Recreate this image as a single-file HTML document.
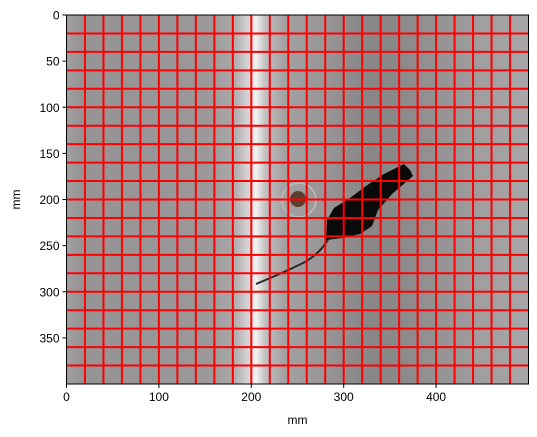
<!DOCTYPE html>
<html><head><meta charset="utf-8"><style>
html,body{margin:0;padding:0;background:#fff;width:537px;height:437px;overflow:hidden}
svg{font-family:"Liberation Sans",sans-serif}
</style></head><body>
<svg id="chart" width="537" height="437" xmlns="http://www.w3.org/2000/svg">
<defs>
<linearGradient id="bg" x1="0" x2="1" y1="0" y2="0">
<stop offset="0" stop-color="#a3a0a1"/>
<stop offset="0.03" stop-color="#959394"/>
<stop offset="0.3" stop-color="#9a9899"/>
<stop offset="0.36" stop-color="#a9a7a8"/>
<stop offset="0.395" stop-color="#d8d6d7"/>
<stop offset="0.41" stop-color="#f4f3f3"/>
<stop offset="0.43" stop-color="#c2c0c1"/>
<stop offset="0.47" stop-color="#a4a2a3"/>
<stop offset="0.56" stop-color="#979596"/>
<stop offset="0.66" stop-color="#878586"/>
<stop offset="0.74" stop-color="#8c8a8b"/>
<stop offset="0.9" stop-color="#a09e9f"/>
<stop offset="1" stop-color="#a8a6a7"/>
</linearGradient>
</defs>
<g id="plot"></g>
<g id="axes"></g>
</svg>
<script>
const xTicks=[0,100,200,300,400];
const yTicks=[0,50,100,150,200,250,300,350];
const gridX=[20,40,60,80,100,120,140,160,180,200,220,240,260,280,300,320,340,360,380,400,420,440,460,480];
const gridY=[20,40,60,80,100,120,140,160,180,200,220,240,260,280,300,320,340,360,380];
const imgW=500, imgH=400;
const L=66.5,T=15,R=528.5,B=384;
const sx=d=>L+d*(R-L)/imgW, sy=d=>T+d*(B-T)/imgH;
const NS="http://www.w3.org/2000/svg";
const plot=document.getElementById('plot'), axes=document.getElementById('axes');
function mk(tag,attrs,parent){const e=document.createElementNS(NS,tag);for(const k in attrs)e.setAttribute(k,attrs[k]);parent.appendChild(e);return e;}
let bg=mk('rect',{x:L,y:T,width:R-L,height:B-T,fill:'url(#bg)'},plot);


let dish=mk('circle',{cx:299,cy:200,r:17,fill:'none',stroke:'#bdbbbc','stroke-width':1.5},plot);


let pellet=mk('circle',{cx:298,cy:199,r:8,fill:'#5c3e2c'},plot);


let tail=mk('path',{d:'M256,284 Q285,272 305,262 Q322,252 330,236',fill:'none',stroke:'#2a2a2a','stroke-width':2},plot);


let body=mk('path',{d:'M326,240 L327,220 L334,208 L350,198 L366,186 L384,174 L396,168 L404,164 L410,170 L413,176 L406,182 L392,194 L378,210 L372,226 L360,234 L342,238 Z',fill:'#0a0a0a'},plot);


gridX.forEach(v=>{const l=mk('line',{x1:sx(v),x2:sx(v),y1:T,y2:B,stroke:'#ff0000','stroke-width':2},plot);

});
gridY.forEach(v=>{const l=mk('line',{x1:L,x2:R,y1:sy(v),y2:sy(v),stroke:'#ff0000','stroke-width':2},plot);

});
let fr=mk('rect',{x:L,y:T,width:R-L,height:B-T,fill:'none',stroke:'#000','stroke-width':1},axes);


xTicks.forEach(v=>{mk('line',{x1:sx(v),x2:sx(v),y1:B,y2:B+4,stroke:'#000'},axes);
const t=mk('text',{x:sx(v),y:B+17,'text-anchor':'middle','font-size':12,fill:'#000'},axes);t.textContent=v;

});
yTicks.forEach(v=>{mk('line',{x1:L-4,x2:L,y1:sy(v),y2:sy(v),stroke:'#000'},axes);
const t=mk('text',{x:L-7,y:sy(v)+4.5,'text-anchor':'end','font-size':12,fill:'#000'},axes);t.textContent=v;

});
let xt=mk('text',{x:(L+R)/2,y:424,'text-anchor':'middle','font-size':12},axes);xt.textContent='mm';


let yt=mk('text',{x:20,y:(T+B)/2,'text-anchor':'middle','font-size':12,transform:`rotate(-90 20 ${(T+B)/2})`},axes);yt.textContent='mm';


</script>
</body></html>
